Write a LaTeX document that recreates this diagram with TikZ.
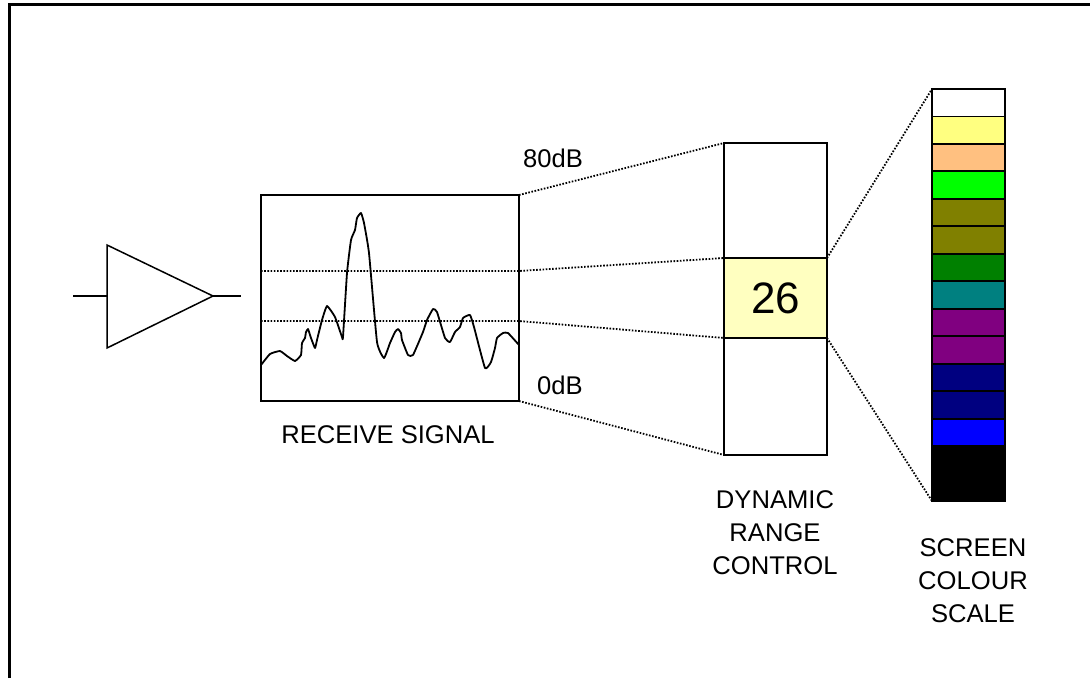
\documentclass[tikz,border=0pt]{standalone}
\usepackage{fontspec}
\setmainfont{Liberation Sans}
\usetikzlibrary{positioning}

\begin{document}
\begin{tikzpicture}[x=1pt, y=-1pt, node distance=0pt,
    box/.style={rectangle, draw, line width=1.7pt, inner sep=0pt, outer sep=0pt},
    cell/.style={box, minimum width=73pt, minimum height=27.47pt, line width=1.8pt},
    link/.style={line width=1.8pt, dash pattern=on 1.6pt off 1.6pt},
    wire/.style={line width=1.5pt},
    caption/.style={align=center, font=\fontsize{25.6}{33}\selectfont}]

\useasboundingbox (0,0) rectangle (1090,678);
\draw[line width=3pt] (9,678) -- (9,4) -- (1090,4);

% amplifier
\coordinate (ampa) at (107,245);
\coordinate (ampb) at (107,348);
\coordinate (amptip) at (213,296);
\coordinate (ampin) at (73,296);
\coordinate (ampout) at (241,296);
\draw[wire] (ampa) -- (amptip) -- (ampb) -- cycle;
\draw[wire] (ampin) -- (ampin -| ampa);
\draw[wire] (amptip) -- (ampout);

% receive signal
\node[box, minimum width=258pt, minimum height=206pt] (sig) at (390,298) {};
\coordinate (sighi) at (261,271);
\coordinate (siglo) at (261,321);
\draw[line width=1.8pt, line join=round] plot[smooth, tension=0.25] coordinates {
  (261,365) (270,354) (280,351) (287,356) (295,361) (301,355) (302,343) (305,338)
  (306,332) (308,329) (311,338) (315,348) (317,340) (322,320) (327,306) (335,317)
  (342,337) (343,337) (347,273) (351,240) (355,230) (357,218) (361,213) (364,223)
  (369,253) (377,342) (384,358) (390,343) (395,332) (398,329) (401,333) (402,340)
  (408,355) (413,355) (423,332) (427,320) (433,309) (437,312) (445,338) (450,342)
  (455,332) (460,327) (463,318) (470,315) (474,327) (485,368) (491,362) (495,348)
  (497,338) (503,333) (508,333) (519,345)};

% dynamic range control
\node[box, minimum width=103pt, minimum height=312pt] (range) at (775.5,299) {};
\node[box, minimum width=103pt, minimum height=80pt, fill={rgb,255:red,255;green,255;blue,192},
      font=\fontsize{44}{48}\selectfont] (level) at (775.5,298) {26};

% colour scale
\node[cell, fill=white] (c1) at (968.5,102.7) {};
\node[cell, below=of c1, fill={rgb,255:red,255;green,255;blue,128}] (c2) {};
\node[cell, below=of c2, fill={rgb,255:red,255;green,192;blue,128}] (c3) {};
\node[cell, below=of c3, fill={rgb,255:red,0;green,255;blue,0}] (c4) {};
\node[cell, below=of c4, fill={rgb,255:red,128;green,128;blue,0}] (c5) {};
\node[cell, below=of c5, fill={rgb,255:red,128;green,128;blue,0}] (c6) {};
\node[cell, below=of c6, fill={rgb,255:red,0;green,128;blue,0}] (c7) {};
\node[cell, below=of c7, fill={rgb,255:red,0;green,128;blue,128}] (c8) {};
\node[cell, below=of c8, fill={rgb,255:red,128;green,0;blue,128}] (c9) {};
\node[cell, below=of c9, fill={rgb,255:red,128;green,0;blue,128}] (c10) {};
\node[cell, below=of c10, fill={rgb,255:red,0;green,0;blue,128}] (c11) {};
\node[cell, below=of c11, fill={rgb,255:red,0;green,0;blue,128}] (c12) {};
\node[cell, below=of c12, fill={rgb,255:red,0;green,0;blue,255}] (c13) {};
\node[cell, below=of c13, fill=black] (c14) {};
\node[cell, below=of c14, fill=black] (c15) {};

% dotted links
\draw[link] (sig.north east) -- (range.north west);
\draw[link] (sig.south east) -- (range.south west);
\draw[link] (sighi) -- (sighi -| sig.east) -- (level.north west);
\draw[link] (siglo) -- (siglo -| sig.east) -- (level.south west);
\draw[link] (level.north east) -- (c1.north west);
\draw[link] (level.south east) -- (c15.south west);

% labels
\node[caption] (top) at (553,158) {80dB};
\node[caption] (bottom) at (560,385) {0dB};
\node[caption] (sigtext) at (388,435) {RECEIVE SIGNAL};
\node[caption] (rangetext) at (775,533) {DYNAMIC\\RANGE\\CONTROL};
\node[caption] (scaletext) at (973,581) {SCREEN\\COLOUR\\SCALE};

\end{tikzpicture}
\end{document}
